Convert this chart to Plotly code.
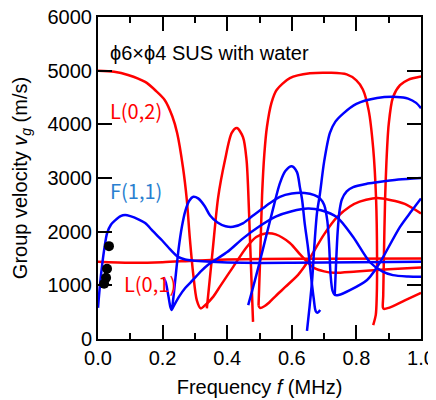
import plotly.graph_objects as go

# L(0,1)
l01_f = [0, 0.1, 0.2, 0.3, 0.4, 0.5, 0.7, 1.0]
l01_v = [1440, 1420, 1430, 1460, 1480, 1490, 1495, 1500]

# L(0,2) down into the dip, then the slow branch
l02_f = [0, 0.05, 0.093, 0.146, 0.18, 0.207, 0.23, 0.245, 0.263, 0.275, 0.284, 0.295, 0.306, 0.318,
         0.33, 0.357, 0.38, 0.418, 0.46, 0.49, 0.522, 0.55, 0.594, 0.625, 0.647, 0.67, 0.70, 0.73, 0.8, 0.9, 1.0]
l02_v = [5000, 4980, 4920, 4790, 4620, 4450, 4150, 3840, 3200, 2590, 1900, 1200, 720, 570,
         620, 790, 1000, 1340, 1710, 1900, 1970, 1950, 1790, 1580, 1440, 1320, 1260, 1235, 1260, 1300, 1330]

# red hump around 0.43 MHz
rpk_f = [0.337, 0.355, 0.372, 0.393, 0.414, 0.43, 0.449, 0.46, 0.465, 0.47, 0.475, 0.48]
rpk_v = [570, 1650, 2640, 3330, 3840, 3930, 3760, 3330, 2770, 1950, 1130, 320]

# red plateau 0.5 - 0.86 MHz
rarch_f = [0.852, 0.86, 0.863, 0.864, 0.861, 0.852, 0.838, 0.82, 0.80, 0.77, 0.72, 0.656, 0.594,
           0.553, 0.537, 0.523, 0.515, 0.508, 0.502, 0.497]
rarch_v = [260, 450, 800, 1500, 2600, 3550, 4260, 4650, 4820, 4930, 4960, 4950, 4860,
           4640, 4400, 3950, 3450, 2680, 1500, 620]

# red branch from the cusp at 0.5 MHz
rgrad_f = [0.497, 0.502, 0.515, 0.53, 0.55, 0.58, 0.62, 0.647, 0.70, 0.74, 0.78, 0.81, 0.85, 0.88, 0.92, 0.956, 1.0]
rgrad_v = [620, 578, 610, 680, 800, 970, 1200, 1420, 1950, 2270, 2470, 2560, 2620, 2620, 2570, 2500, 2340]

# red hairpin near 0.88 MHz
rrr_f = [1.0, 0.96, 0.935, 0.913, 0.9, 0.893, 0.889, 0.885, 0.883, 0.882, 0.885, 0.9, 0.95, 1.0]
rrr_v = [4890, 4830, 4730, 4500, 4000, 3300, 2640, 1500, 800, 590, 560, 580, 720, 860]

# F(1,1)
f11_f = [0, 0.006, 0.012, 0.02, 0.028, 0.04, 0.053, 0.07, 0.084, 0.1, 0.125, 0.146, 0.17, 0.198,
         0.225, 0.248, 0.27, 0.3, 0.35, 0.45, 0.6, 0.8, 1.0]
f11_v = [580, 1000, 1340, 1700, 1970, 2130, 2210, 2290, 2310, 2290, 2230, 2160, 2010, 1840,
         1660, 1530, 1480, 1460, 1440, 1420, 1420, 1430, 1440]

# blue from 0.2 MHz, steep branch
bst_f = [0.203, 0.21, 0.218, 0.224, 0.228, 0.233, 0.24, 0.25, 0.26, 0.27, 0.283, 0.295, 0.31, 0.33,
         0.347, 0.37, 0.395, 0.418, 0.45, 0.48, 0.52, 0.563, 0.6, 0.64, 0.67, 0.687, 0.70, 0.71,
         0.716, 0.72, 0.726, 0.733, 0.745, 0.78, 0.833, 0.864, 0.883, 0.935, 0.97, 1.0]
bst_v = [1150, 1050, 800, 600, 540, 750, 1150, 1700, 2100, 2380, 2580, 2650, 2620, 2480,
         2300, 2170, 2100, 2090, 2160, 2300, 2480, 2650, 2710, 2720, 2680, 2620, 2500, 2200,
         1700, 1200, 900, 820, 820, 910, 1100, 1340, 1530, 2090, 2380, 2620]

# blue from 0.23 MHz, slow branch
bgr_f = [0.228, 0.25, 0.27, 0.294, 0.32, 0.34, 0.37, 0.40, 0.45, 0.50, 0.55, 0.60, 0.65, 0.69,
         0.74, 0.79, 0.842, 0.88, 0.913, 0.96, 1.0]
bgr_v = [540, 780, 950, 1100, 1270, 1380, 1500, 1620, 1880, 2100, 2280, 2380, 2430, 2400,
         2270, 1900, 1430, 1260, 1190, 1165, 1160]

# blue hump around 0.6 MHz
b32_f = [0.465, 0.48, 0.50, 0.52, 0.545, 0.563, 0.58, 0.6, 0.616, 0.625, 0.632, 0.64, 0.65,
         0.66, 0.668, 0.674, 0.68, 0.688]
b32_v = [630, 960, 1420, 1900, 2500, 2900, 3130, 3220, 3110, 2830, 2590, 2150, 1710,
         1150, 750, 520, 490, 540]

# blue up to 4500
b45_f = [0.647, 0.655, 0.663, 0.67, 0.678, 0.687, 0.70, 0.718, 0.735, 0.759, 0.80, 0.864, 0.925, 0.96, 0.985, 1.0]
b45_v = [150, 600, 1100, 1750, 2350, 2700, 3300, 3840, 4050, 4200, 4380, 4490, 4510, 4480, 4400, 4300]

# blue up to 3000
b30_f = [0.733, 0.737, 0.742, 0.748, 0.755, 0.77, 0.79, 0.83, 0.864, 0.93, 1.0]
b30_v = [830, 1400, 2000, 2400, 2600, 2750, 2830, 2890, 2920, 2970, 3000]

# measured points
meas_f = [0.034, 0.028, 0.025, 0.019]
meas_v = [1730, 1310, 1140, 1030]

RED = "#ff0000"
BLUE = "#0000ff"

fig = go.Figure()

red_curves = [(l01_f, l01_v), (l02_f, l02_v), (rpk_f, rpk_v), (rarch_f, rarch_v),
              (rgrad_f, rgrad_v), (rrr_f, rrr_v)]
blue_curves = [(f11_f, f11_v), (bst_f, bst_v), (bgr_f, bgr_v), (b32_f, b32_v),
               (b45_f, b45_v), (b30_f, b30_v)]

for fx, vy in red_curves:
    fig.add_trace(go.Scatter(x=fx, y=vy, mode="lines",
                             line=dict(color=RED, width=2.5, shape="spline", smoothing=0.8)))
for fx, vy in blue_curves:
    fig.add_trace(go.Scatter(x=fx, y=vy, mode="lines",
                             line=dict(color=BLUE, width=2.5, shape="spline", smoothing=0.8)))

fig.add_trace(go.Scatter(x=meas_f, y=meas_v, mode="markers",
                         marker=dict(color="black", size=10)))

fig.add_annotation(x=0.031, y=5330, text="ϕ6×ϕ4 SUS with water", showarrow=False,
                   xanchor="left", yanchor="middle", font=dict(size=20, color="black"))
fig.add_annotation(x=0.031, y=4250, text="L(0,2)", showarrow=False,
                   xanchor="left", yanchor="middle",
                   font=dict(size=20, color=RED, family="Noto Sans CJK JP"))
fig.add_annotation(x=0.031, y=2760, text="F(1,1)", showarrow=False,
                   xanchor="left", yanchor="middle",
                   font=dict(size=20, color="#2a7fd0", family="Noto Sans CJK JP"))
fig.add_annotation(x=0.074, y=1025, text="L(0,1)", showarrow=False,
                   xanchor="left", yanchor="middle",
                   font=dict(size=20, color=RED, family="Noto Sans CJK JP"))

axis_common = dict(showline=True, linecolor="black", linewidth=2, mirror="ticks",
                   ticks="inside", ticklen=14, tickwidth=2, tickcolor="black",
                   showgrid=False, zeroline=False, automargin=False,
                   ticklabeloverflow="allow",
                   tickfont=dict(size=20, color="black"),
                   title_font=dict(size=20, color="black"))

fig.update_xaxes(range=[0, 1], dtick=0.2, tickformat=".1f",
                 title_text="Frequency <i>f</i> (MHz)", title_standoff=12,
                 minor=dict(ticks="inside", ticklen=6, tickwidth=1.5, dtick=0.1, tickcolor="black"),
                 **axis_common)
fig.update_yaxes(range=[0, 6000], dtick=1000,
                 title_text="Group velocity <i>v<sub>g</sub></i> (m/s)",
                 **axis_common)

# the page adds an 8 px body margin, so the figure is 8 px smaller than the window
fig.update_layout(
    width=428, height=392,
    margin=dict(l=90, r=15, t=9, b=61, autoexpand=False),
    showlegend=False,
    plot_bgcolor="white",
    paper_bgcolor="white",
    font=dict(family="Liberation Sans, Arial, sans-serif", color="black"),
)

fig.write_html("out.html")
